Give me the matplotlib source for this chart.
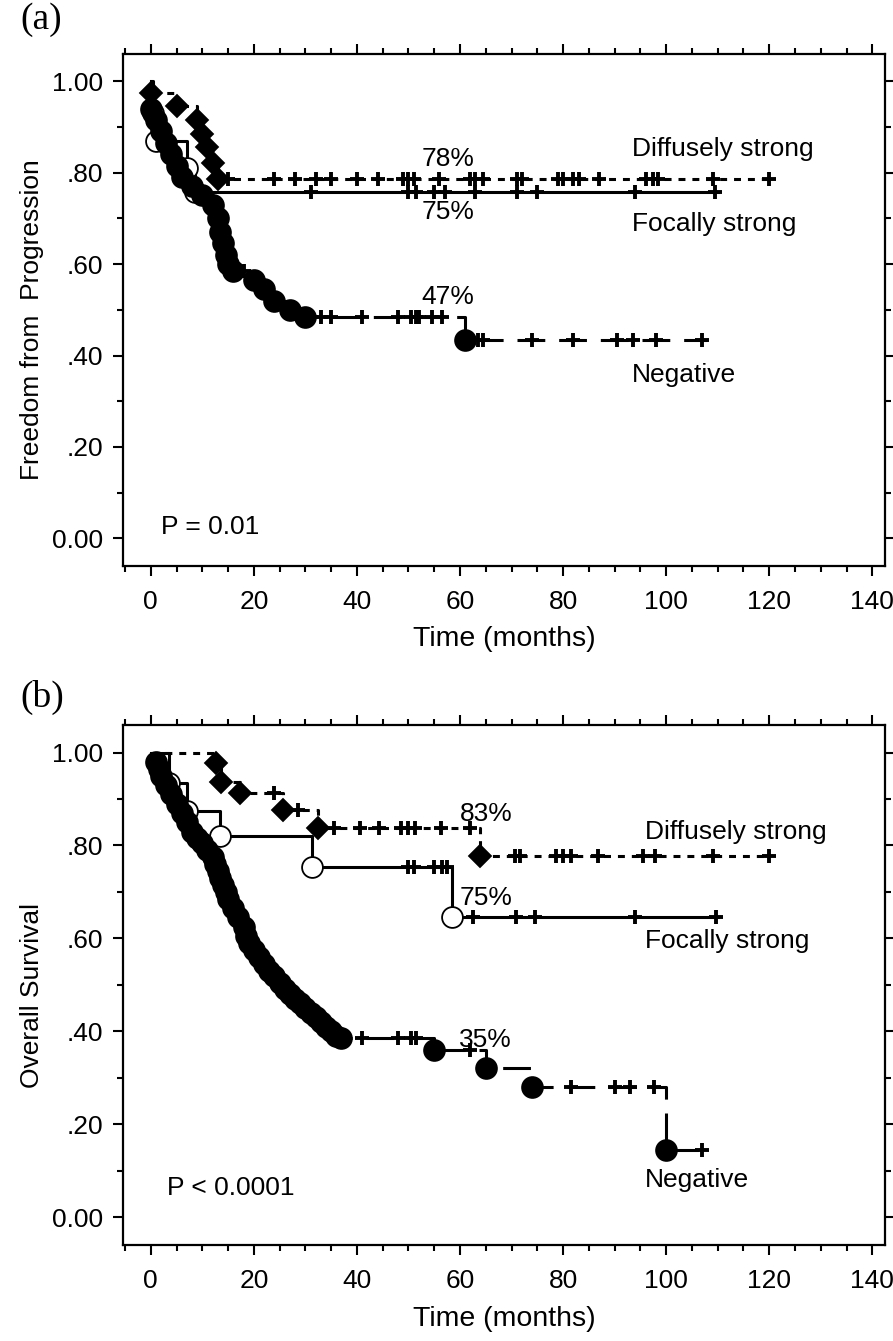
import numpy as np
import matplotlib
matplotlib.use("Agg")
import matplotlib.pyplot as plt
from matplotlib.ticker import MultipleLocator

plt.rcParams['font.family'] = ['Liberation Sans', 'DejaVu Sans']
plt.rcParams['lines.scale_dashes'] = False

# ---------------- data: panel (a) freedom from progression ----------------
a_diff_t = [0, 5, 9, 10, 11, 12, 13]
a_diff_s = [0.975, 0.945, 0.915, 0.885, 0.855, 0.82, 0.785]
a_diff_end = 120
a_diff_cens = [15, 24, 28, 32, 35, 40, 44, 49, 50, 51, 56, 62, 63, 64.5, 71, 72,
               79, 80, 82, 83, 87, 96, 97.5, 98.5, 109, 120]

a_foc_t = [0.5, 1, 7, 8.5]
a_foc_s = [0.93, 0.87, 0.81, 0.757]
a_foc_end = 110
a_foc_cens = [31, 50, 51.5, 55, 57, 63, 71, 75, 94, 109.5]

a_neg_t = [0, 1, 2, 3, 4, 5, 6, 8, 10, 12, 13, 13.5, 14, 14.5, 15, 16, 20, 22, 24, 27, 30, 61]
a_neg_s = [0.94, 0.915, 0.89, 0.865, 0.84, 0.815, 0.79, 0.77, 0.75, 0.73, 0.70, 0.67,
           0.645, 0.62, 0.60, 0.585, 0.565, 0.545, 0.52, 0.50, 0.485, 0.433]
a_neg_end = 108
a_neg_cens = [17, 18, 31, 33, 35, 41, 48, 50.5, 51.5, 52, 54.5, 56.5,
              63.5, 64.5, 74, 82, 90.5, 93.5, 98, 107]

# ---------------- data: panel (b) overall survival ----------------
b_diff_t = [12.7, 13.7, 17.3, 25.6, 32.4, 63.8]
b_diff_s = [0.978, 0.937, 0.914, 0.877, 0.838, 0.778]
b_diff_end = 120
b_diff_cens = [24, 28.6, 35.5, 40.5, 44.3, 48.6, 50, 51.2, 56.4, 62,
               70.7, 71.6, 78.6, 80, 81.5, 86.7, 95.6, 97.9, 109, 120]

b_foc_t = [3.5, 7, 13.5, 31.3, 58.5]
b_foc_s = [0.935, 0.875, 0.82, 0.754, 0.646]
b_foc_end = 110
b_foc_cens = [50, 51, 55, 56.5, 57.4, 62.5, 70.8, 74.6, 93.9, 109.6]

b_neg_t = [1, 1.5, 2, 3, 4, 5, 6, 7, 8, 9, 10, 11, 12, 12.5, 13, 13.5, 14, 14.5, 15, 16,
           17, 18, 18.5, 19, 20, 21, 22, 23, 24, 25, 26, 27, 28, 29, 30, 31, 32, 33,
           34, 35, 36, 37, 55, 65, 74, 100]
b_neg_s = [0.98, 0.965, 0.95, 0.93, 0.91, 0.89, 0.87, 0.85, 0.83, 0.815, 0.805, 0.79,
           0.775, 0.76, 0.745, 0.73, 0.715, 0.70, 0.685, 0.665, 0.645, 0.625, 0.605,
           0.59, 0.575, 0.56, 0.545, 0.53, 0.52, 0.505, 0.49, 0.48, 0.47, 0.46, 0.45,
           0.44, 0.43, 0.42, 0.41, 0.40, 0.39, 0.385, 0.36, 0.32, 0.28, 0.145]
b_neg_end = 108.5
b_neg_cens = [41, 48, 50.5, 51.5, 62, 81.5, 90, 93, 97.7, 107]

ytick_vals = [0, 0.2, 0.4, 0.6, 0.8, 1.0]
ytick_labels = ['0.00', '.20', '.40', '.60', '.80', '1.00']
xtick_vals = [0, 20, 40, 60, 80, 100, 120, 140]

FS = 19


def km(ax, t, s, end, cens, ls, marker, msize, mfc, z):
    x = np.array([0] + list(t) + [end], dtype=float)
    y = np.array([1.0] + list(s) + [s[-1]], dtype=float)
    ax.step(x, y, where='post', color='black', lw=2.2, linestyle=ls, zorder=z)
    ax.plot(t, s, linestyle='none', marker=marker, ms=msize, mfc=mfc,
            mec='black', mew=1.3, zorder=z + 0.5)
    idx = np.searchsorted(x, cens, side='right') - 1
    ax.plot(cens, y[idx], linestyle='none', marker='+', ms=10, mew=2.8,
            color='black', zorder=z + 0.2)


def style(ax, ylabel):
    ax.set_xlim(-5.4, 142.4)
    ax.set_ylim(-0.06, 1.06)
    ax.set_xticks(xtick_vals)
    ax.set_yticks(ytick_vals)
    ax.set_yticklabels(ytick_labels)
    ax.xaxis.set_minor_locator(MultipleLocator(5))
    ax.yaxis.set_minor_locator(MultipleLocator(0.1))
    ax.tick_params(which='both', direction='out', top=True, right=True,
                   width=1.5, labelsize=FS, color='black')
    ax.tick_params(which='major', length=7)
    ax.tick_params(which='minor', length=4)
    ax.tick_params(axis='x', pad=10)
    ax.tick_params(axis='y', pad=7)
    for sp in ax.spines.values():
        sp.set_linewidth(1.6)
    ax.set_xlabel('Time (months)', fontsize=20.5)
    ax.xaxis.set_label_coords(0.5, -0.118)
    ax.set_ylabel(ylabel, fontsize=FS)
    ax.yaxis.set_label_coords(-0.104, 0.48)


fig = plt.figure(figsize=(8.93, 13.41), dpi=100)
ax1 = fig.add_axes([0.1377, 0.578, 0.853, 0.382])
ax2 = fig.add_axes([0.1377, 0.0716, 0.853, 0.388])

dotted = (0, (5, 5))
dashed = (0, (20, 10))

# panel (a)
km(ax1, a_foc_t, a_foc_s, a_foc_end, a_foc_cens, '-', 'o', 15, 'white', 2)
km(ax1, a_neg_t, a_neg_s, a_neg_end, a_neg_cens, dashed, 'o', 15, 'black', 3)
km(ax1, a_diff_t, a_diff_s, a_diff_end, a_diff_cens, dotted, 'D', 11, 'black', 4)
style(ax1, 'Freedom from  Progression')
ax1.text(93.4, 0.851, 'Diffusely strong', fontsize=FS, va='center', ha='left')
ax1.text(93.4, 0.687, 'Focally strong', fontsize=FS, va='center', ha='left')
ax1.text(93.4, 0.357, 'Negative', fontsize=FS, va='center', ha='left')
ax1.text(57.7, 0.83, '78%', fontsize=FS, va='center', ha='center')
ax1.text(57.7, 0.713, '75%', fontsize=FS, va='center', ha='center')
ax1.text(57.7, 0.527, '47%', fontsize=FS, va='center', ha='center')
ax1.text(2, 0.026, 'P = 0.01', fontsize=FS, va='center', ha='left')

# panel (b)
km(ax2, b_foc_t, b_foc_s, b_foc_end, b_foc_cens, '-', 'o', 15, 'white', 2)
km(ax2, b_neg_t, b_neg_s, b_neg_end, b_neg_cens, dashed, 'o', 15, 'black', 3)
km(ax2, b_diff_t, b_diff_s, b_diff_end, b_diff_cens, dotted, 'D', 11, 'black', 4)
style(ax2, 'Overall Survival')
ax2.text(95.9, 0.83, 'Diffusely strong', fontsize=FS, va='center', ha='left')
ax2.text(95.9, 0.595, 'Focally strong', fontsize=FS, va='center', ha='left')
ax2.text(106, 0.08, 'Negative', fontsize=FS, va='center', ha='center')
ax2.text(65, 0.868, '83%', fontsize=FS, va='center', ha='center')
ax2.text(65, 0.687, '75%', fontsize=FS, va='center', ha='center')
ax2.text(65, 0.381, '35%', fontsize=FS, va='center', ha='center')
ax2.text(3.1, 0.0625, 'P < 0.0001', fontsize=FS, va='center', ha='left')

fig.text(20 / 893, 1 - 20 / 1341, '(a)', fontsize=27, family='Liberation Serif',
         va='center', ha='left')
fig.text(20 / 893, 1 - 697 / 1341, '(b)', fontsize=27, family='Liberation Serif',
         va='center', ha='left')

fig.savefig('out.png', dpi=100)
